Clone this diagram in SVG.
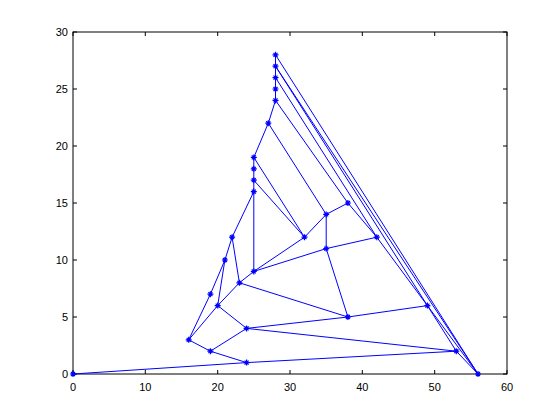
<svg xmlns="http://www.w3.org/2000/svg" width="560" height="420" viewBox="0 0 560 420">
<style>
.ax{fill:none;stroke:#000;stroke-width:1}
.tk{stroke:#000;stroke-width:1}
.lbl{font-family:"Liberation Sans",Arial,sans-serif;font-size:11px;fill:#000}
.e{stroke:#0000ff;stroke-width:1;fill:none}
.m{stroke:#0000ff;stroke-width:1.2;fill:none}
</style>
<defs>
<path id="star" class="m" d="M-3,0H3M0,-3V3M-2,-2L2,2M-2,2L2,-2"/>
</defs>
<rect x="0" y="0" width="560" height="420" fill="#fff"/>
<g id="axes">
<rect class="ax" x="73" y="32" width="434" height="342"/>
<g class="tk">
<path d="M73,374v-4M145.3,374v-4M217.7,374v-4M290,374v-4M362.3,374v-4M434.7,374v-4M507,374v-4"/>
<path d="M73,32v4M145.3,32v4M217.7,32v4M290,32v4M362.3,32v4M434.7,32v4M507,32v4"/>
<path d="M73,374h4M73,317h4M73,260h4M73,203h4M73,146h4M73,89h4M73,32h4"/>
<path d="M507,374h-4M507,317h-4M507,260h-4M507,203h-4M507,146h-4M507,89h-4M507,32h-4"/>
</g>
<g class="lbl" text-anchor="middle">
<text x="73" y="391">0</text><text x="145.3" y="391">10</text><text x="217.7" y="391">20</text><text x="290" y="391">30</text><text x="362.3" y="391">40</text><text x="434.7" y="391">50</text><text x="507" y="391">60</text>
</g>
<g class="lbl" text-anchor="end">
<text x="68" y="378">0</text><text x="68" y="321">5</text><text x="68" y="264">10</text><text x="68" y="207">15</text><text x="68" y="150">20</text><text x="68" y="93">25</text><text x="68" y="36">30</text>
</g>
</g>
<g id="connectors" class="e">
<line x1="73" y1="374" x2="246.6" y2="362.6"/>
<line x1="246.6" y1="362.6" x2="456.3" y2="351.2"/>
<line x1="210.4" y1="351.2" x2="246.6" y2="362.6"/>
<line x1="188.7" y1="339.8" x2="210.4" y2="351.2"/>
<line x1="210.4" y1="351.2" x2="246.6" y2="328.4"/>
<line x1="188.7" y1="339.8" x2="210.4" y2="294.2"/>
<line x1="188.7" y1="339.8" x2="217.7" y2="305.6"/>
<line x1="210.4" y1="294.2" x2="224.9" y2="260"/>
<line x1="217.7" y1="305.6" x2="224.9" y2="260"/>
<line x1="224.9" y1="260" x2="232.1" y2="237.2"/>
<line x1="232.1" y1="237.2" x2="239.4" y2="282.8"/>
<line x1="232.1" y1="237.2" x2="253.8" y2="191.6"/>
<line x1="217.7" y1="305.6" x2="239.4" y2="282.8"/>
<line x1="217.7" y1="305.6" x2="246.6" y2="328.4"/>
<line x1="239.4" y1="282.8" x2="253.8" y2="271.4"/>
<line x1="239.4" y1="282.8" x2="347.9" y2="317"/>
<line x1="246.6" y1="328.4" x2="347.9" y2="317"/>
<line x1="246.6" y1="328.4" x2="456.3" y2="351.2"/>
<line x1="253.8" y1="271.4" x2="253.8" y2="191.6"/>
<line x1="253.8" y1="271.4" x2="304.5" y2="237.2"/>
<line x1="253.8" y1="271.4" x2="326.2" y2="248.6"/>
<line x1="253.8" y1="191.6" x2="253.8" y2="157.4"/>
<line x1="253.8" y1="180.2" x2="304.5" y2="237.2"/>
<line x1="253.8" y1="157.4" x2="304.5" y2="237.2"/>
<line x1="253.8" y1="157.4" x2="268.3" y2="123.2"/>
<line x1="268.3" y1="123.2" x2="275.5" y2="100.4"/>
<line x1="275.5" y1="100.4" x2="275.5" y2="54.8"/>
<line x1="268.3" y1="123.2" x2="326.2" y2="214.4"/>
<line x1="275.5" y1="100.4" x2="347.9" y2="203"/>
<line x1="275.5" y1="77.6" x2="376.8" y2="237.2"/>
<line x1="275.5" y1="66.2" x2="427.4" y2="305.6"/>
<line x1="275.5" y1="66.2" x2="478" y2="374"/>
<line x1="275.5" y1="54.8" x2="478" y2="374"/>
<line x1="304.5" y1="237.2" x2="326.2" y2="214.4"/>
<line x1="326.2" y1="214.4" x2="326.2" y2="248.6"/>
<line x1="326.2" y1="214.4" x2="347.9" y2="203"/>
<line x1="347.9" y1="203" x2="376.8" y2="237.2"/>
<line x1="326.2" y1="248.6" x2="376.8" y2="237.2"/>
<line x1="326.2" y1="248.6" x2="347.9" y2="317"/>
<line x1="376.8" y1="237.2" x2="427.4" y2="305.6"/>
<line x1="347.9" y1="317" x2="427.4" y2="305.6"/>
<line x1="427.4" y1="305.6" x2="456.3" y2="351.2"/>
<line x1="427.4" y1="305.6" x2="478" y2="374"/>
<line x1="456.3" y1="351.2" x2="478" y2="374"/>
</g>
<g id="nodes">
<g id="n1"><use href="#star" x="73" y="374"/></g>
<g id="n2"><use href="#star" x="246.6" y="362.6"/></g>
<g id="n3"><use href="#star" x="210.4" y="351.2"/></g>
<g id="n4"><use href="#star" x="188.7" y="339.8"/></g>
<g id="n5"><use href="#star" x="246.6" y="328.4"/></g>
<g id="n6"><use href="#star" x="217.7" y="305.6"/></g>
<g id="n7"><use href="#star" x="210.4" y="294.2"/></g>
<g id="n8"><use href="#star" x="239.4" y="282.8"/></g>
<g id="n9"><use href="#star" x="253.8" y="271.4"/></g>
<g id="n10"><use href="#star" x="224.9" y="260"/></g>
<g id="n11"><use href="#star" x="232.1" y="237.2"/></g>
<g id="n12"><use href="#star" x="253.8" y="191.6"/></g>
<g id="n13"><use href="#star" x="253.8" y="180.2"/></g>
<g id="n14"><use href="#star" x="253.8" y="168.8"/></g>
<g id="n15"><use href="#star" x="253.8" y="157.4"/></g>
<g id="n16"><use href="#star" x="268.3" y="123.2"/></g>
<g id="n17"><use href="#star" x="275.5" y="100.4"/></g>
<g id="n18"><use href="#star" x="275.5" y="89"/></g>
<g id="n19"><use href="#star" x="275.5" y="77.6"/></g>
<g id="n20"><use href="#star" x="275.5" y="66.2"/></g>
<g id="n21"><use href="#star" x="275.5" y="54.8"/></g>
<g id="n22"><use href="#star" x="304.5" y="237.2"/></g>
<g id="n23"><use href="#star" x="326.2" y="214.4"/></g>
<g id="n24"><use href="#star" x="326.2" y="248.6"/></g>
<g id="n25"><use href="#star" x="347.9" y="203"/></g>
<g id="n26"><use href="#star" x="376.8" y="237.2"/></g>
<g id="n27"><use href="#star" x="347.9" y="317"/></g>
<g id="n28"><use href="#star" x="427.4" y="305.6"/></g>
<g id="n29"><use href="#star" x="456.3" y="351.2"/></g>
<g id="n30"><use href="#star" x="478" y="374"/></g>
</g>
</svg>
